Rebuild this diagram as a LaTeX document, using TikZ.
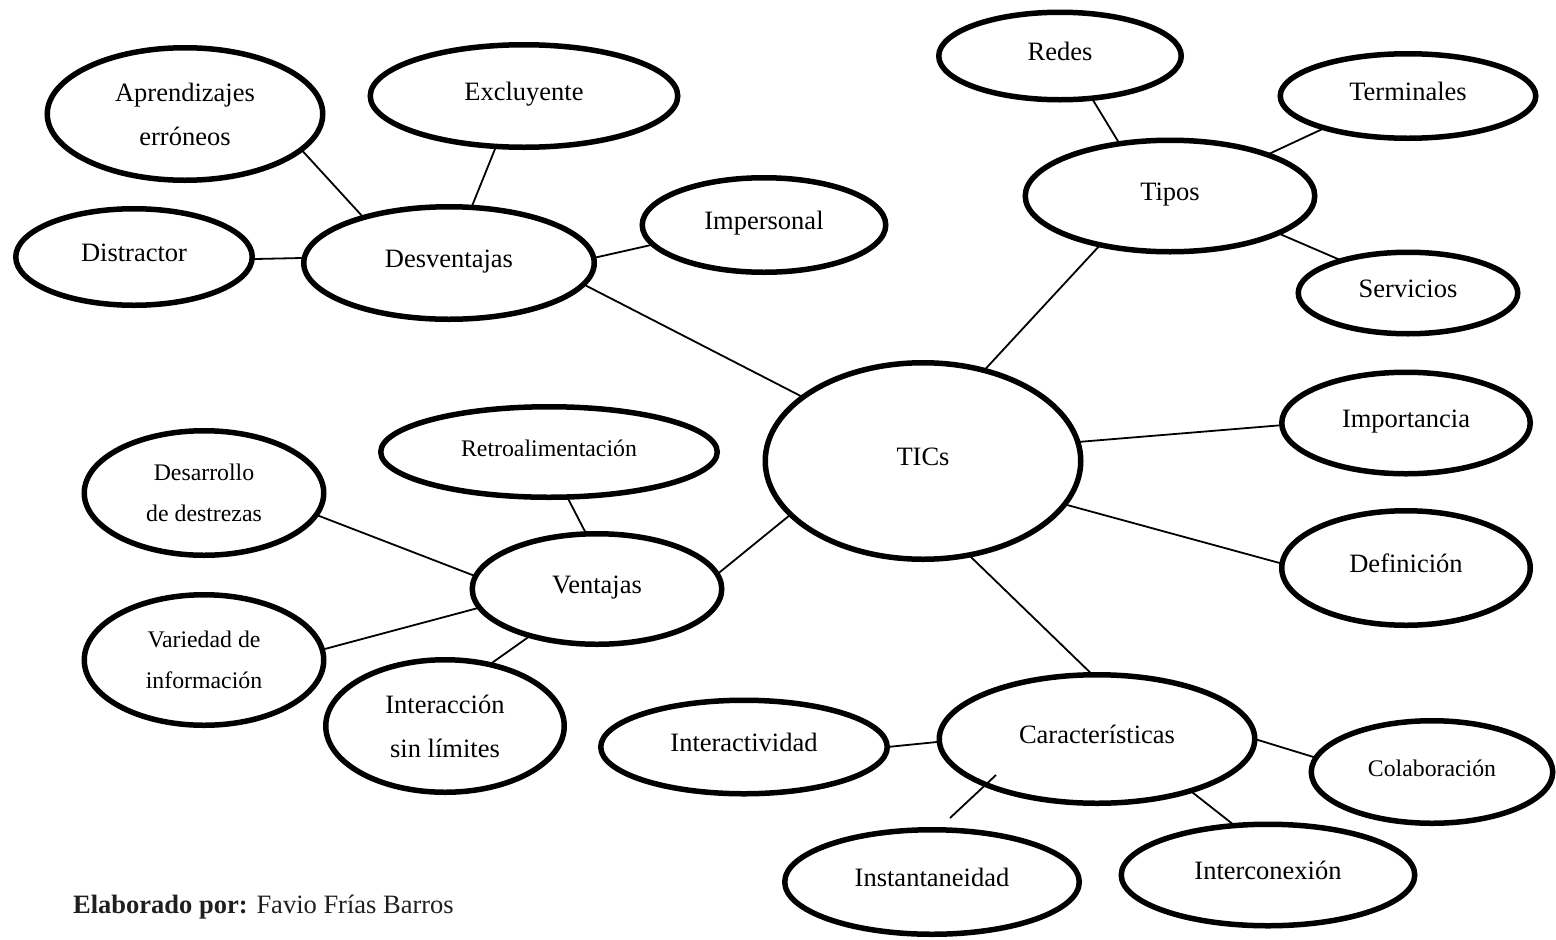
\documentclass[tikz,border=0pt]{standalone}
\usepackage{fontspec}
\setmainfont{Liberation Serif}
\usetikzlibrary{shapes.geometric,calc}
\begin{document}
\begin{tikzpicture}[x=1pt,y=-1pt,
  bubble/.style={ellipse,draw,line width=5.5pt,inner sep=0pt,outer sep=0pt},
  big/.style={font=\fontsize{26.5}{44}\selectfont,text height=18pt,text depth=8.2pt},
  bigtwo/.style={font=\fontsize{26.5}{44}\selectfont,align=center},
  small/.style={font=\fontsize{23.8}{41}\selectfont,text height=16.2pt,text depth=7.4pt},
  smalltwo/.style={font=\fontsize{23.8}{41}\selectfont,align=center},
  sz/.style 2 args={minimum width=#1pt,minimum height=#2pt},
  link/.style={line width=1.8pt}
]
\useasboundingbox (0,0) rectangle (1556,940);
\fill[white] (0,0) rectangle (1556,940);

% central topic
\node[bubble,big,sz={315.5}{196.5}] (tics) at (923,461) {TICs};

% disadvantages branch
\node[bubble,big,sz={290.5}{112.5}] (des) at (449,263) {Desventajas};
\node[bubble,bigtwo,sz={275.5}{132.5}] (apr) at (185,114) {Aprendizajes\\erróneos};
\node[bubble,big,sz={307.5}{102.5}] (exc) at (524,96) {Excluyente};
\node[bubble,big,sz={236.5}{96.5}] (dis) at (134,257) {Distractor};
\node[bubble,big,sz={243.5}{94.5}] (impe) at (764,225) {Impersonal};

% types branch
\node[bubble,big,sz={289.5}{111.5}] (tipos) at (1170,196) {Tipos};
\node[bubble,big,sz={242.5}{87.5}] (redes) at (1060,56) {Redes};
\node[bubble,big,sz={255.5}{84.5}] (term) at (1408,96) {Terminales};
\node[bubble,big,sz={219.5}{81.5}] (serv) at (1408,293) {Servicios};

% right-hand topics
\node[bubble,big,sz={248.5}{101.5}] (impo) at (1406,423) {Importancia};
\node[bubble,big,sz={248.5}{114.5}] (defi) at (1406,568) {Definición};

% advantages branch
\node[bubble,big,sz={249.5}{110.5}] (vent) at (597,589) {Ventajas};
\node[bubble,small,sz={336.5}{90.5}] (retro) at (549,452) {Retroalimentación};
\node[bubble,smalltwo,sz={239.5}{124.5}] (desa) at (204,493) {Desarrollo\\de destrezas};
\node[bubble,smalltwo,sz={239.5}{130.5}] (vari) at (204,660) {Variedad de\\información};
\node[bubble,bigtwo,sz={238.5}{132.5}] (inter) at (445,726) {Interacción\\sin límites};

% characteristics branch
\node[bubble,big,sz={315.5}{128.5}] (car) at (1097,739) {Características};
\node[bubble,big,sz={286.5}{93.5}] (inac) at (744,747) {Interactividad};
\node[bubble,small,sz={241.5}{102.5}] (col) at (1432,772) {Colaboración};
\node[bubble,big,sz={294.5}{104.5}] (inst) at (932,882) {Instantaneidad};
\node[bubble,big,sz={293.5}{101.5}] (ico) at (1268,875) {Interconexión};

% connectors
\draw[link] (apr.-17) -- (des.152);
\draw[link] (exc.241) -- (des.68);
\draw[link] (dis.-1) -- (des.178.5);
\draw[link] (des.2) -- (impe.190);
\draw[link] (des.-9.5) -- (tics.152);
\draw[link] (redes.-53) -- (tipos.134.5);
\draw[link] (term.201) -- (tipos.23);
\draw[link] (serv.154) -- (tipos.-19);
\draw[link] (tipos.215) -- (tics.56);
\draw[link] (tics.7.5) -- (impo.181);
\draw[link] (tics.-17) -- (defi.178);
\draw[link] (vent.7.4) -- (tics.202);
\draw[link] (tics.-64) -- (car.94);
\draw[link] (retro.-68) -- (vent.101);
\draw[link] (desa.-11) -- (vent.174);
\draw[link] (vari.5.6) -- (vent.189);
\draw[link] (inter.54) -- (vent.215);
\draw[link] (inac.0) -- (car.181);
\draw[link] (car.0.7) -- (col.173);
\draw[link] (car.-29.5) -- (ico.124);
\coordinate (instIn) at ($(car.center)+(-101,36)$);
\coordinate (instTop) at ($(inst.center)+(18,-64)$);
\draw[link] (instIn) -- (instTop);

% credit line
\node[anchor=base west,font=\fontsize{26.5}{30}\selectfont,inner sep=0pt,text=black!88] (credit) at (73,913)
  {\textbf{Elaborado por:} Favio Frías Barros};
\end{tikzpicture}
\end{document}
